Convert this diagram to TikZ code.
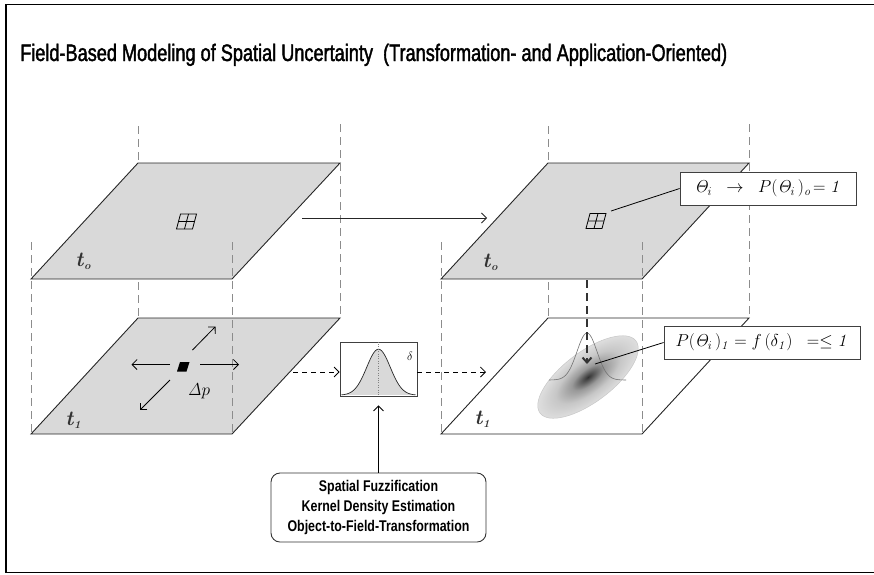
\documentclass[tikz,border=0pt]{standalone}
\usepackage{graphicx}
\usepackage{amsmath}
\usepackage[no-math]{fontspec}
\usetikzlibrary{arrows.meta,calc}
\newfontfamily\titlefont[FakeStretch=0.76, FakeBold=1.6]{Liberation Sans}
\newfontfamily\condfont[FakeStretch=0.8]{Liberation Sans}
\definecolor{planegray}{HTML}{D9D9D9}
\pgfdeclareradialshading{blob}{\pgfpoint{0bp}{0bp}}{color(0bp)=(black!80); color(2bp)=(black!70); color(8bp)=(black!40); color(16bp)=(black!22); color(25bp)=(black!13); color(50bp)=(black!13)}

\begin{document}
\begin{tikzpicture}[x=1pt,y=-1pt,
  plane/.style={draw=black!85, line width=0.9pt, line join=miter},
  guide/.style={draw=black!45, line width=0.8pt, dash pattern=on 8pt off 5pt},
  arr/.style={line width=0.8pt, -{Straight Barb[length=5pt,width=10pt,line width=0.8pt]}},
  dasharr/.style={arr, dash pattern=on 5pt off 4pt},
  tlabel/.style={text=black!80, inner sep=0pt, font=\fontsize{21}{21}\selectfont\bfseries\itshape},
  callout/.style={draw=black!75, fill=white, line width=0.8pt, inner sep=0pt,
    minimum height=33pt, font=\fontsize{17}{17}\selectfont},
  gridsym/.pic={
    \draw[line width=0.8pt, line join=miter] (-6,-7.5) -- (10,-7.5) -- (6,7.5) -- (-10,7.5) -- cycle;
    \draw[line width=0.8pt] (-8,0) -- (8,0) (2,-7.5) -- (-2,7.5);
  }]
\useasboundingbox (0,0) rectangle (874,574);
\draw[line width=1.3pt] (6,4.5) rectangle (876,572.5);

% title
\node[anchor=base west, inner sep=0pt] (title) at (20,61)
  {\resizebox{707pt}{!}{\titlefont\fontsize{18.6}{20}\selectfont Field-Based Modeling of Spatial Uncertainty\ \ (Transformation- and Application-Oriented)}};

% ---------------- left stack (object view) ----------------
\fill[planegray] (31,434) -- (232,434) -- (340,318) -- (138,318) -- cycle;
\draw[plane] (31,434) -- (232,434) -- (340,318) -- (138,318) -- cycle;
\draw[guide] (138,126) -- (138,318);
\fill[planegray] (31,279) -- (232,279) -- (340,163) -- (138,163) -- cycle;
\draw[plane] (31,279) -- (232,279) -- (340,163) -- (138,163) -- cycle;
\draw[guide] (340,124) -- (340,318);
\draw[guide] (31,242) -- (31,434);
\draw[guide] (232,242) -- (232,434);

\pic at (186.5,221.5) {gridsym};
\node[tlabel] (tl0) at (83,261) {t\kern0.5pt\raisebox{-3pt}{\fontsize{11}{11}\selectfont o}};
\node[tlabel] (tl1) at (73,420) {t\kern0.5pt\raisebox{-3pt}{\fontsize{11}{11}\selectfont 1}};

% displaced point with its positional uncertainty
\fill[black] (180,362) -- (189.5,362) -- (186.5,371.5) -- (177,371.5) -- cycle;
\draw[arr] (170,364.5) -- (131.5,364.5);
\draw[arr] (200,364.5) -- (239,364.5);
\draw[arr] (192.5,350) -- (215.5,326.5);
\draw[arr] (170,380) -- (140,410);
\node[inner sep=0pt, font=\fontsize{16}{16}\selectfont] (dp) at (199,391) {$\mathit{\Delta}p$};

% ---------------- right stack (field view) ----------------
\fill[white] (441,434) -- (642,434) -- (749,318) -- (548,318) -- cycle;
\draw[plane] (441,434) -- (642,434) -- (749,318) -- (548,318) -- cycle;
\draw[guide] (548,126) -- (548,318);
\fill[planegray] (441,279) -- (642,279) -- (749,163) -- (548,163) -- cycle;
\draw[plane] (441,279) -- (642,279) -- (749,163) -- (548,163) -- cycle;
\draw[guide] (749,124) -- (749,318);
\draw[guide] (441,242) -- (441,434);
\draw[guide] (642,242) -- (642,434);

\pic at (596,221) {gridsym};
\node[tlabel] (tr0) at (490,262) {t\kern0.5pt\raisebox{-3pt}{\fontsize{11}{11}\selectfont o}};
\node[tlabel] (tr1) at (482,419) {t\kern0.5pt\raisebox{-3pt}{\fontsize{11}{11}\selectfont 1}};

% kernel density surface
\begin{scope}[transform canvas={shift={(588,377)}, rotate=37}]
  \shade[shading=blob, draw=black!22, line width=0.5pt] (0,0) ellipse [x radius=60, y radius=25];
\end{scope}
\draw[black!55, line width=0.6pt] plot[domain=-38:39, samples=60]
  ({587+\x},{380-47*exp(-0.5*(\x/10)^2)});

% cell projected downwards
\coordinate (cellfoot) at (587,280);
\coordinate (cellhit) at (587,364);
\draw[black!80, line width=2pt, dash pattern=on 8pt off 5pt,
  -{Straight Barb[length=5pt,width=9pt,line width=2pt]}] (cellfoot) -- (cellhit);

% ---------------- kernel function ----------------
\node[draw=black!75, fill=white, line width=0.8pt, minimum width=77pt, minimum height=54pt, inner sep=0pt]
  (delta) at (378.5,369) {};
\fill[planegray] plot[domain=-37:37, samples=60] ({378.5+\x},{395.2-46*exp(-0.5*(\x/11.8)^2)}) -- cycle;
\draw[black!85, line width=0.7pt] plot[domain=-37:37, samples=60] ({378.5+\x},{395.2-46*exp(-0.5*(\x/11.8)^2)});
\draw[black!50, line width=0.4pt, dotted] (delta.north) -- (delta.south);
\node[inner sep=0pt, font=\fontsize{13}{13}\selectfont] (dl) at (410,356) {$\delta$};

% method box
\node[draw=black!80, rounded corners=9pt, line width=0.9pt, minimum width=215pt, minimum height=69pt,
  align=center, font=\condfont\bfseries\fontsize{15.5}{20}\selectfont] (method) at (378.5,507.5)
  {Spatial Fuzzification\\Kernel Density Estimation\\Object-to-Field-Transformation};

% callouts
\node[callout, minimum width=176pt] (c0) at (768,188.5)
  {$\mathit{\Theta}_i \;\;\rightarrow\;\; P(\mathit{\Theta}_i\,)_{\mathit{o}}\!= \mathit{1}$};
\node[callout, minimum width=196pt] (c1) at (762,342.5)
  {$P(\mathit{\Theta}_i\,)_{\mathit{1}} = f\,(\delta_{\mathit{1}}) \;\;= \leq \mathit{1}$};
\coordinate (cell0) at (611,211);
\coordinate (cell1) at (595,364);
\draw[line width=0.8pt] (cell0) -- (c0.west);
\draw[line width=0.8pt] (cell1) -- (c1.west);

% connectors
\coordinate (srcTop) at (302,218);
\coordinate (dstTop) at (487,218);
\draw[arr, black!85] (srcTop) -- (dstTop);
\coordinate (srcLow) at (293,372);
\coordinate (dstLow) at (486,372);
\draw[dasharr] (srcLow) -- (srcLow -| delta.west);
\draw[dasharr] (delta.east |- dstLow) -- (dstLow);
\draw[arr] (method.north) -- (delta.south) [shorten >=9pt];
\end{tikzpicture}
\end{document}
